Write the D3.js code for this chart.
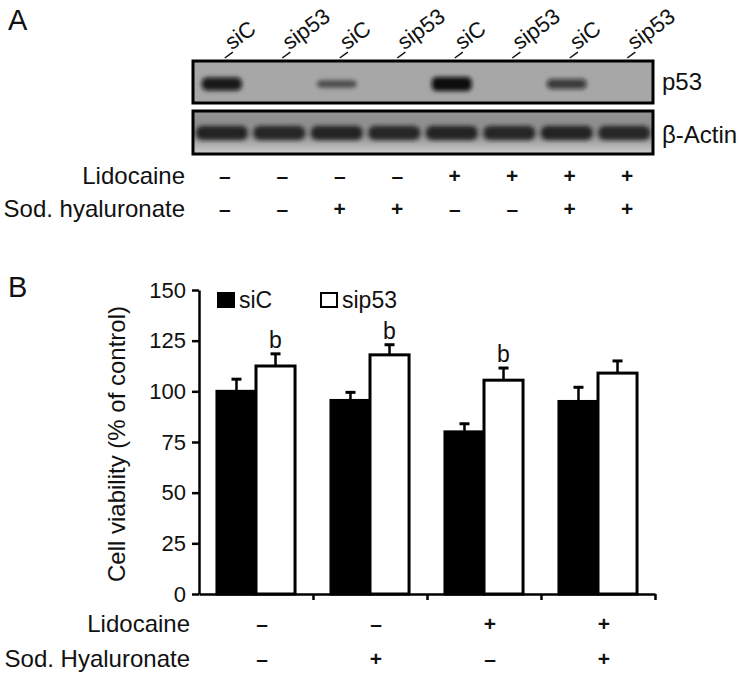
<!DOCTYPE html>
<html>
<head>
<meta charset="utf-8">
<script src="https://cdn.jsdelivr.net/npm/d3@7"></script>
<style>
  body { margin: 0; background: #fff; }
  text { font-family: "Liberation Sans", Arial, sans-serif; fill: #111; }
</style>
</head>
<body>
<div id="chart"></div>
<script>
// ---- data: panel A (western blot) ----
var laneLabels = ["siC", "sip53", "siC", "sip53", "siC", "sip53", "siC", "sip53"];
var lidoA = ["–", "–", "–", "–", "+", "+", "+", "+"];
var hyalA = ["–", "–", "+", "+", "–", "–", "+", "+"];
var p53Band = [0.9, 0, 0.35, 0, 1, 0, 0.6, 0];
var actinBand = [0.9, 0.88, 0.9, 0.88, 0.9, 0.88, 0.9, 0.88];

// ---- data: panel B (cell viability) ----
var groups = ["g1", "g2", "g3", "g4"];
var series = ["siC", "sip53"];
var siC = [100, 95.5, 80, 95];
var siCErr = [6, 4, 4, 7];
var sip53 = [112.5, 118, 105.5, 109];
var sip53Err = [6, 5, 6, 6];
var sip53Sig = ["b", "b", "b", ""];
var lidoB = ["–", "–", "+", "+"];
var hyalB = ["–", "+", "–", "+"];
var yTicks = [0, 25, 50, 75, 100, 125, 150];

var W = 740, H = 677;

var svg = d3.select("#chart").append("svg")
    .attr("width", W)
    .attr("height", H);

var defs = svg.append("defs");
defs.append("filter").attr("id", "blur")
    .attr("x", "-30%").attr("y", "-80%").attr("width", "160%").attr("height", "260%")
    .append("feGaussianBlur").attr("stdDeviation", 2.2);

var grad = defs.append("linearGradient").attr("id", "actinBg")
    .attr("x1", 0).attr("y1", 0).attr("x2", 0).attr("y2", 1);
grad.append("stop").attr("offset", "0%").attr("stop-color", "#929292");
grad.append("stop").attr("offset", "55%").attr("stop-color", "#8c8c8c");
grad.append("stop").attr("offset", "100%").attr("stop-color", "#cfcfcf");

// ======== Panel A ========
svg.append("text").attr("x", 8).attr("y", 30)
    .style("font-size", "29px").text("A");

var lane = d3.scaleBand()
    .domain(d3.range(laneLabels.length))
    .range([193, 653]);

var boxP53 = {y: 61, h: 42},
    boxActin = {y: 111, h: 43};

// p53 blot
svg.append("rect")
    .attr("x", 193).attr("y", boxP53.y)
    .attr("width", 460).attr("height", boxP53.h)
    .attr("fill", "#a7a7a7");

svg.append("g").attr("filter", "url(#blur)")
    .selectAll("rect")
    .data(p53Band.map(function(v, i) { return {v: v, i: i}; }).filter(function(d) { return d.v > 0; }))
    .enter().append("rect")
        .attr("x", function(d) { return lane(d.i) + lane.bandwidth() / 2 - 20; })
        .attr("width", 40)
        .attr("y", function(d) { return 84 - (2 + d.v * 5); })
        .attr("height", function(d) { return 4 + d.v * 10; })
        .attr("rx", 5)
        .attr("fill", "#0a0a0a")
        .attr("fill-opacity", function(d) { return 0.3 + d.v * 0.7; });

svg.append("rect")
    .attr("x", 193).attr("y", boxP53.y)
    .attr("width", 460).attr("height", boxP53.h)
    .attr("fill", "none").attr("stroke", "#000").attr("stroke-width", 3);

// actin blot
svg.append("rect")
    .attr("x", 193).attr("y", boxActin.y)
    .attr("width", 460).attr("height", boxActin.h)
    .attr("fill", "url(#actinBg)");

svg.append("g").attr("filter", "url(#blur)")
    .selectAll("rect")
    .data(actinBand)
    .enter().append("rect")
        .attr("x", function(d, i) { return lane(i) + 3; })
        .attr("width", lane.bandwidth() - 6)
        .attr("y", 126)
        .attr("height", 14)
        .attr("rx", 6)
        .attr("fill", "#141414")
        .attr("fill-opacity", function(d) { return d; });

svg.append("rect")
    .attr("x", 193).attr("y", boxActin.y)
    .attr("width", 460).attr("height", boxActin.h)
    .attr("fill", "none").attr("stroke", "#000").attr("stroke-width", 3);

svg.append("text").attr("x", 662).attr("y", 90)
    .style("font-size", "24px").text("p53");
svg.append("text").attr("x", 662).attr("y", 143)
    .style("font-size", "24px").text("β-Actin");

// lane labels
var laneG = svg.append("g").selectAll(".lane")
    .data(laneLabels)
    .enter().append("g")
        .attr("class", "lane")
        .attr("transform", function(d, i) {
            return "translate(" + (lane(i) + lane.bandwidth() / 2 + 3) + ",58) rotate(-36)";
        });

laneG.append("line")
    .attr("x1", 0).attr("y1", 0).attr("x2", 10).attr("y2", 0)
    .attr("stroke", "#111").attr("stroke-width", 1.5);

laneG.append("text")
    .attr("x", 10).attr("y", -2)
    .style("font-size", "22px")
    .text(function(d) { return d; });

// treatment rows
svg.append("text").attr("x", 185).attr("y", 184)
    .attr("text-anchor", "end").style("font-size", "24px").text("Lidocaine");
svg.append("text").attr("x", 185).attr("y", 217)
    .attr("text-anchor", "end").style("font-size", "24px").text("Sod. hyaluronate");

svg.append("g").selectAll("text")
    .data(lidoA).enter().append("text")
        .attr("x", function(d, i) { return lane(i) + lane.bandwidth() / 2 + 3; })
        .attr("y", 183)
        .attr("text-anchor", "middle")
        .style("font-size", "21px").style("font-weight", "bold")
        .text(function(d) { return d; });

svg.append("g").selectAll("text")
    .data(hyalA).enter().append("text")
        .attr("x", function(d, i) { return lane(i) + lane.bandwidth() / 2 + 3; })
        .attr("y", 216)
        .attr("text-anchor", "middle")
        .style("font-size", "21px").style("font-weight", "bold")
        .text(function(d) { return d; });

// ======== Panel B ========
svg.append("text").attr("x", 8).attr("y", 297)
    .style("font-size", "29px").text("B");

var x0 = d3.scaleBand()
    .domain(groups)
    .range([199, 655]);

var x1 = d3.scaleBand()
    .domain(series)
    .range([0, x0.bandwidth()])
    .paddingOuter(0.46);

var y = d3.scaleLinear()
    .domain([0, 150])
    .range([594, 290]);

var xEdge = d3.scaleLinear()
    .domain([0, groups.length])
    .range([199, 655]);

var barData = [];
groups.forEach(function(g, i) {
    barData.push({g: g, s: "siC", v: siC[i], e: siCErr[i], sig: ""});
    barData.push({g: g, s: "sip53", v: sip53[i], e: sip53Err[i], sig: sip53Sig[i]});
});

var bars = svg.append("g").selectAll(".bar")
    .data(barData)
    .enter().append("g")
        .attr("class", "bar");

// error bars (upper only)
bars.append("line")
    .attr("x1", function(d) { return x0(d.g) + x1(d.s) + x1.bandwidth() / 2; })
    .attr("x2", function(d) { return x0(d.g) + x1(d.s) + x1.bandwidth() / 2; })
    .attr("y1", function(d) { return y(d.v); })
    .attr("y2", function(d) { return y(d.v + d.e); })
    .attr("stroke", "#000").attr("stroke-width", 2.5);

bars.append("line")
    .attr("x1", function(d) { return x0(d.g) + x1(d.s) + x1.bandwidth() / 2 - 5; })
    .attr("x2", function(d) { return x0(d.g) + x1(d.s) + x1.bandwidth() / 2 + 5; })
    .attr("y1", function(d) { return y(d.v + d.e); })
    .attr("y2", function(d) { return y(d.v + d.e); })
    .attr("stroke", "#000").attr("stroke-width", 3);

bars.append("rect")
    .attr("x", function(d) { return x0(d.g) + x1(d.s); })
    .attr("width", x1.bandwidth())
    .attr("y", function(d) { return y(d.v); })
    .attr("height", function(d) { return y(0) - y(d.v); })
    .attr("fill", function(d) { return d.s === "siC" ? "#000" : "#fff"; })
    .attr("stroke", "#000")
    .attr("stroke-width", 3);

bars.append("text")
    .attr("x", function(d) { return x0(d.g) + x1(d.s) + x1.bandwidth() / 2; })
    .attr("y", function(d) { return y(d.v + d.e) - 6; })
    .attr("text-anchor", "middle")
    .style("font-size", "23px")
    .text(function(d) { return d.sig; });

// axes
var yAxis = d3.axisLeft(y)
    .tickValues(yTicks)
    .tickSize(7)
    .tickSizeOuter(0)
    .tickPadding(6);

var gy = svg.append("g")
    .attr("class", "y axis")
    .attr("transform", "translate(199,0)")
    .call(yAxis);
gy.selectAll("path, line").attr("stroke", "#000").attr("stroke-width", 2.5);
gy.selectAll("text").style("font-size", "22px").attr("fill", "#111");

var xAxis = d3.axisBottom(xEdge)
    .tickValues(d3.range(1, groups.length + 1))
    .tickSize(6)
    .tickSizeOuter(0)
    .tickFormat("");

var gx = svg.append("g")
    .attr("class", "x axis")
    .attr("transform", "translate(0,594)")
    .call(xAxis);
gx.selectAll("path, line").attr("stroke", "#000").attr("stroke-width", 2.5);

svg.append("text")
    .attr("transform", "translate(125,444) rotate(-90)")
    .attr("text-anchor", "middle")
    .style("font-size", "24px")
    .text("Cell viability (% of control)");

// legend
var legend = svg.append("g").selectAll(".legend")
    .data(series)
    .enter().append("g")
        .attr("class", "legend")
        .attr("transform", function(d, i) { return "translate(218," + 293 + ") translate(" + (i * 103) + ",0)"; });

legend.append("rect")
    .attr("width", 16).attr("height", 14)
    .attr("fill", function(d) { return d === "siC" ? "#000" : "#fff"; })
    .attr("stroke", "#000").attr("stroke-width", 2);

legend.append("text")
    .attr("x", 21).attr("y", 15)
    .style("font-size", "23px")
    .text(function(d) { return d; });

// treatment rows
svg.append("text").attr("x", 190).attr("y", 632)
    .attr("text-anchor", "end").style("font-size", "24px").text("Lidocaine");
svg.append("text").attr("x", 190).attr("y", 667)
    .attr("text-anchor", "end").style("font-size", "24px").text("Sod. Hyaluronate");

svg.append("g").selectAll("text")
    .data(lidoB).enter().append("text")
        .attr("x", function(d, i) { return x0(groups[i]) + x0.bandwidth() / 2 + 6; })
        .attr("y", 631)
        .attr("text-anchor", "middle")
        .style("font-size", "21px").style("font-weight", "bold")
        .text(function(d) { return d; });

svg.append("g").selectAll("text")
    .data(hyalB).enter().append("text")
        .attr("x", function(d, i) { return x0(groups[i]) + x0.bandwidth() / 2 + 6; })
        .attr("y", 666)
        .attr("text-anchor", "middle")
        .style("font-size", "21px").style("font-weight", "bold")
        .text(function(d) { return d; });
</script>
</body>
</html>
